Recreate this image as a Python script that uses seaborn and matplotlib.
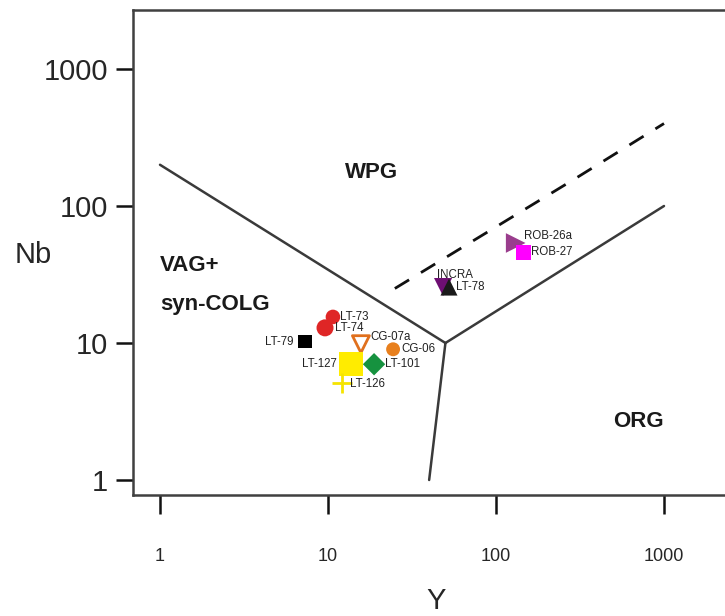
import matplotlib
matplotlib.use("Agg")
import matplotlib.pyplot as plt
import seaborn as sns
import pandas as pd

# Sample data
samples = ["LT-73", "LT-74", "LT-79", "CG-07a", "CG-06", "LT-127",
           "LT-101", "LT-126", "INCRA", "LT-78", "ROB-26a", "ROB-27"]
y_ppm = [10.7, 9.6, 7.3, 15.7, 24.4, 13.7, 18.8, 12.1, 48.4, 52.5, 131, 145]
nb_ppm = [15.5, 12.9, 10.2, 9.8, 9.0, 7.0, 7.0, 5.1, 25.6, 25.6, 53.7, 46.0]
colors = ["#df2626", "#df2626", "#000000", "#e0701e", "#e8801e", "#ffec00",
          "#16923f", "#f5e400", "#6e0f73", "#1a1a1a", "#9a3d8d", "#ff00ff"]
markers = ["o", "o", "s", "v", "o", "s", "D", "+", "v", "^", ">", "s"]
sizes = [110, 150, 90, 150, 100, 300, 130, 200, 170, 150, 200, 120]

# Field boundaries (Pearce et al. 1984)
b1_x, b1_y = [1, 50], [200, 10]
b2_x, b2_y = [50, 1000], [10, 100]
b3_x, b3_y = [50, 40], [10, 1]
dash_x, dash_y = [25, 300, 1000], [25, 160, 400]

df = pd.DataFrame({"sample": samples, "Y": y_ppm, "Nb": nb_ppm})

sns.set_style("white")
plt.rcParams["font.family"] = ["Liberation Sans", "DejaVu Sans"]

fig = plt.figure(figsize=(7.25, 6.16), dpi=100)
ax = fig.add_axes([133 / 725, 121 / 616, 607 / 725, 485 / 616])
ax.set_xscale("log")
ax.set_yscale("log")
ax.set_xlim(10 ** (-27 / 168), 10 ** (580 / 168))
ax.set_ylim(10 ** (-15 / 137), 10 ** (470 / 137))

line_col = "#3a3a3a"
sns.lineplot(x=b1_x, y=b1_y, ax=ax, color=line_col, lw=1.8, sort=False)
sns.lineplot(x=b2_x, y=b2_y, ax=ax, color=line_col, lw=1.8, sort=False)
sns.lineplot(x=b3_x, y=b3_y, ax=ax, color=line_col, lw=1.8, sort=False)
ax.plot(dash_x, dash_y, color="#111111", lw=2, dashes=(6, 5))

for i, row in df.iterrows():
    m = markers[i]
    if row["sample"] == "CG-07a":
        ax.scatter(row["Y"], row["Nb"], marker=m, s=sizes[i], facecolors="none",
                   edgecolors=colors[i], linewidths=2, zorder=3)
    elif m == "+":
        ax.scatter(row["Y"], row["Nb"], marker=m, s=sizes[i], color=colors[i],
                   linewidths=2, zorder=3)
    else:
        sns.scatterplot(x=[row["Y"]], y=[row["Nb"]], ax=ax, marker=m, s=sizes[i],
                        color=colors[i], edgecolor="none", zorder=3)

# sample labels (offset in points)
offsets = {"LT-73": (5, 0), "LT-74": (7, 0), "LT-79": (-8, 0), "CG-07a": (7, 5),
           "CG-06": (6, 0), "LT-127": (-10, 0), "LT-101": (8, 0), "LT-126": (6, -1),
           "INCRA": (-4, 9), "LT-78": (5, 0), "ROB-26a": (6, 5), "ROB-27": (6, 0)}
for s, xv, yv in zip(samples, y_ppm, nb_ppm):
    dx, dy = offsets[s]
    ha = "right" if dx < 0 else "left"
    if s == "INCRA":
        ha = "left"
    ax.annotate(s, (xv, yv), xytext=(dx, dy), textcoords="offset points",
                ha=ha, va="center", fontsize=8.3, color="#222222")

# field names
ax.text(12.6, 177, "WPG", fontsize=16, fontweight="bold", ha="left", va="center",
        color="#1a1a1a")
ax.text(1.0, 37, "VAG+", fontsize=16, fontweight="bold", ha="left", va="center",
        color="#1a1a1a")
ax.text(1.0, 19, "syn-COLG", fontsize=16, fontweight="bold", ha="left", va="center",
        color="#1a1a1a")
ax.text(500, 10 ** 0.43, "ORG", fontsize=16, fontweight="bold", ha="left", va="center",
        color="#1a1a1a")

for side in ["left", "top", "bottom"]:
    ax.spines[side].set_color("#404040")
    ax.spines[side].set_linewidth(1.8)
ax.spines["right"].set_visible(False)

ax.set_xticks([1, 10, 100, 1000])
ax.set_xticklabels(["1", "10", "100", "1000"])
ax.set_yticks([1, 10, 100, 1000])
ax.set_yticklabels(["1", "10", "100", "1000"])
ax.minorticks_off()
ax.tick_params(axis="x", direction="out", length=14, width=1.8, pad=24,
               labelsize=13, bottom=True, color="#111111")
ax.tick_params(axis="y", direction="out", length=12, width=1.8, pad=6,
               labelsize=21, left=True, color="#111111")

ax.set_xlabel("Y", fontsize=21, labelpad=16)
ax.set_ylabel("Nb", fontsize=21, rotation=0, labelpad=30)
ax.yaxis.set_label_coords(-0.165, 0.465)

fig.savefig("out.png", dpi=100)
